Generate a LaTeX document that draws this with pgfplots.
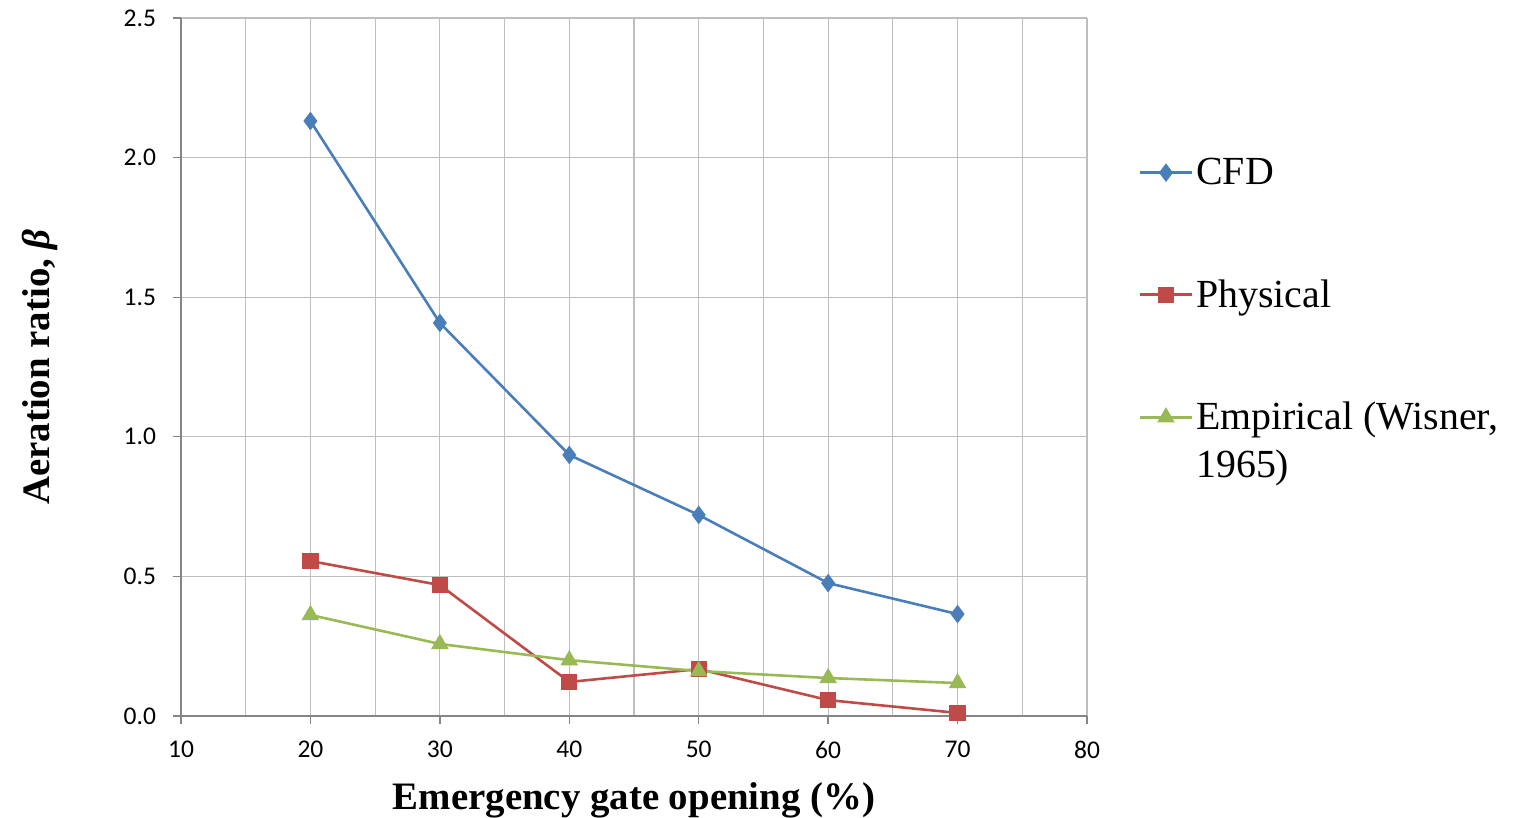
\documentclass[border=0pt]{standalone}
\usepackage{pgfplots}
\pgfplotsset{compat=1.18}
\usepackage{fontspec}
\setmainfont{Liberation Serif}
\newfontfamily\tickfont{Carlito}
\definecolor{cfd}{HTML}{4A7EBB}
\definecolor{phys}{HTML}{BE4B48}
\definecolor{emp}{HTML}{98B954}
\definecolor{gridc}{HTML}{BEBEBE}
\definecolor{axc}{HTML}{868686}
\begin{document}
\begin{tikzpicture}
\begin{axis}[
  scale only axis, width=453bp, height=349bp,
  xmin=10, xmax=80, ymin=0, ymax=2.5,
  xtick={10,20,...,80}, minor xtick={15,25,...,75},
  ytick={0,0.5,...,2.5},
  grid=both,
  major grid style={gridc, line width=0.6pt},
  minor grid style={gridc, line width=0.6pt},
  axis x line*=bottom, axis y line*=left,
  axis line style={axc, line width=0.7pt, -},
  tick style={axc, line width=0.7pt},
  major tick length=4bp, minor tick length=0pt,
  tick align=outside,
  ticklabel style={font=\tickfont\fontsize{12.8}{15}\selectfont, text=black},
  /pgf/number format/assume math mode=true,
  yticklabel style={/pgf/number format/fixed, /pgf/number format/fixed zerofill, /pgf/number format/precision=1, xshift=-5bp},
  xticklabel style={yshift=-5bp},
  xlabel={\textbf{Emergency gate opening (\%)}},
  ylabel={\textbf{Aeration ratio, \textit{β}}},
  label style={font=\fontsize{19.5}{23}\selectfont},
  xlabel style={yshift=-5bp},
  ylabel style={yshift=26bp},
  legend style={at={(1.05,0.81)}, anchor=north west, draw=none, fill=none,
    font=\fontsize{20}{24}\selectfont, row sep=43bp,
    nodes={inner sep=1.5bp}},
  legend cell align=left,
  legend image code/.code={
    \draw[#1, mark repeat=2, mark phase=2] plot coordinates {(0bp,0bp) (13bp,0bp) (26bp,0bp)};},
]
\addplot[cfd, line width=1.3pt, mark=diamond*, mark size=3.6bp, mark options={fill=cfd, draw=cfd}]
  coordinates {(20,2.131) (30,1.408) (40,0.935) (50,0.720) (60,0.476) (70,0.365)};
\addlegendentry{CFD}
\addplot[phys, line width=1.3pt, mark=square*, mark size=3.4bp, mark options={fill=phys, draw=phys}]
  coordinates {(20,0.555) (30,0.469) (40,0.122) (50,0.168) (60,0.057) (70,0.011)};
\addlegendentry{Physical}
\addplot[emp, line width=1.3pt, mark=triangle*, mark size=3.8bp, mark options={fill=emp, draw=emp}]
  coordinates {(20,0.362) (30,0.258) (40,0.200) (50,0.161) (60,0.136) (70,0.118)};
\addlegendentry{\raisebox{0pt}[\height][0pt]{\parbox[t]{160bp}{Empirical (Wisner,\\1965)}}}
\coordinate (ll) at (rel axis cs:0,0);
\end{axis}
\pgfresetboundingbox
\path[use as bounding box] ([shift={(-90.5bp,-51bp)}]ll) rectangle ++(758bp,409bp);
\end{tikzpicture}
\end{document}
